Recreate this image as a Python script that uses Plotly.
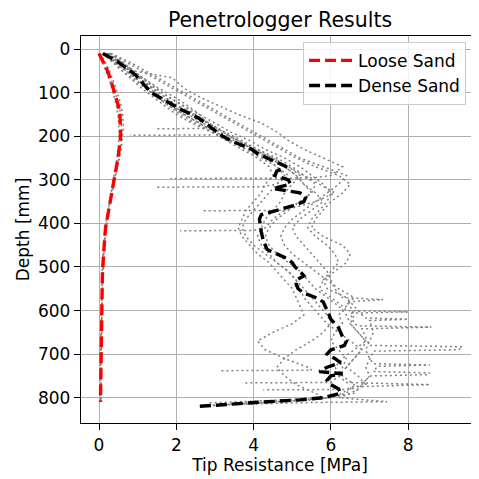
import plotly.graph_objects as go

# ---------------- data ----------------
# Mean profiles
loose_mean_depth = [10, 30, 50, 70, 90, 110, 130, 150, 170, 190, 210, 230, 250, 270, 290, 310, 330, 350, 370, 390,
                    410, 430, 450, 470, 490, 510, 530, 550, 570, 590, 610, 630, 650, 670, 690, 710, 730, 750, 770, 790, 810]
loose_mean_q = [0.0, 0.12, 0.22, 0.3, 0.37, 0.44, 0.5, 0.54, 0.56, 0.56, 0.55, 0.53, 0.49, 0.45, 0.41, 0.36, 0.31, 0.27, 0.23, 0.2,
                0.17, 0.15, 0.13, 0.11, 0.1, 0.09, 0.085, 0.08, 0.075, 0.07, 0.065, 0.06, 0.06, 0.055, 0.05, 0.05, 0.045, 0.045, 0.04, 0.04, 0.04]

dense_mean_depth = [10, 20, 30, 40, 50, 60, 70, 80, 90, 100, 110, 120, 130, 140, 150, 160, 170, 180, 190, 200,
                    210, 220, 230, 240, 250, 260, 270, 280, 290, 300, 310, 320, 330, 340, 350, 360, 370, 380, 390, 400,
                    420, 440, 460, 470, 480, 490, 500, 510, 520, 530, 540, 550, 560, 570, 580, 590, 600, 610, 620, 630,
                    640, 650, 660, 670, 680, 690, 700, 710, 720, 730, 740, 745, 750, 760, 770, 780, 790, 800, 805, 810, 815, 820]
dense_mean_q = [0.1, 0.3, 0.5, 0.65, 0.8, 0.95, 1.05, 1.15, 1.25, 1.35, 1.55, 1.75, 1.95, 2.15, 2.4, 2.6, 2.75, 2.9, 3.05, 3.2,
                3.4, 3.7, 3.95, 4.1, 4.35, 4.6, 4.85, 4.6, 4.55, 4.9, 4.95, 4.5, 5.2, 5.35, 5.3, 5.0, 4.6, 4.2, 4.15, 4.16,
                4.2, 4.25, 4.35, 4.6, 4.85, 5.0, 5.07, 5.2, 5.3, 5.1, 5.1, 5.15, 5.3, 5.6, 5.8, 5.85, 5.9, 5.95, 6.0, 6.1,
                6.2, 6.25, 6.3, 6.4, 6.35, 6.0, 5.9, 6.1, 6.25, 5.9, 5.7, 6.3, 6.0, 5.9, 6.0, 6.2, 6.25, 5.8, 5.2, 4.2, 3.2, 2.55]

# Individual loose-sand soundings
loose_1_q = [0.02, 0.16, 0.27, 0.36, 0.44, 0.51, 0.57, 0.61, 0.63, 0.62, 0.6, 0.57, 0.53, 0.48, 0.43, 0.38, 0.33, 0.28, 0.24, 0.21,
             0.18, 0.16, 0.14, 0.12, 0.11, 0.1, 0.09, 0.09, 0.08, 0.08, 0.07, 0.07, 0.07, 0.06, 0.06, 0.06, 0.05, 0.05, 0.05, 0.05, 0.05]
loose_2_q = [0.0, 0.09, 0.18, 0.26, 0.33, 0.39, 0.45, 0.49, 0.51, 0.52, 0.51, 0.5, 0.47, 0.43, 0.39, 0.35, 0.3, 0.26, 0.22, 0.19,
             0.16, 0.14, 0.12, 0.1, 0.09, 0.08, 0.08, 0.07, 0.07, 0.06, 0.06, 0.05, 0.05, 0.05, 0.04, 0.04, 0.04, 0.04, 0.03, 0.03, 0.03]
loose_3_q = [0.01, 0.13, 0.23, 0.31, 0.38, 0.45, 0.52, 0.56, 0.58, 0.58, 0.56, 0.54, 0.5, 0.46, 0.42, 0.37, 0.32, 0.28, 0.24, 0.2,
             0.17, 0.15, 0.13, 0.12, 0.1, 0.1, 0.09, 0.08, 0.08, 0.07, 0.07, 0.06, 0.06, 0.06, 0.05, 0.05, 0.05, 0.05, 0.04, 0.04, 0.04]

# Individual dense-sand soundings (depth [mm], tip resistance [MPa])
dense_1_d = [10, 30, 50, 66, 90, 110, 130, 150, 170, 190, 210, 230, 250, 270, 290, 296, 297]
dense_1_q = [0.3, 0.6, 0.9, 1.9, 2.2, 2.6, 3.1, 3.6, 4.2, 4.6, 4.9, 5.3, 5.8, 6.3, 6.0, 5.5, 1.85]

dense_2_d = [10, 30, 50, 70, 90, 110, 130, 150, 170, 190, 197, 198]
dense_2_q = [0.2, 0.5, 0.85, 1.2, 1.55, 1.95, 2.3, 2.6, 2.8, 3.0, 2.9, 0.8]

dense_3_d = [10, 30, 50, 70, 90, 110, 130, 150, 170, 182, 183]
dense_3_q = [0.15, 0.4, 0.7, 1.0, 1.3, 1.6, 1.9, 2.2, 2.6, 2.8, 1.5]

dense_4_d = [10, 30, 50, 70, 90, 110, 130, 150, 170, 190, 210, 230, 250, 270, 290, 310, 316, 317]
dense_4_q = [0.1, 0.35, 0.6, 0.9, 1.2, 1.5, 1.85, 2.2, 2.6, 3.0, 3.4, 3.8, 4.2, 4.6, 4.9, 4.6, 4.2, 1.5]

dense_5_d = [10, 30, 50, 70, 90, 110, 130, 150, 170, 190, 210, 230, 250, 270, 290, 310, 330, 350, 370, 371]
dense_5_q = [0.2, 0.5, 0.8, 1.1, 1.4, 1.7, 2.05, 2.45, 2.85, 3.25, 3.7, 4.1, 4.5, 4.9, 5.3, 5.7, 6.1, 5.6, 4.8, 2.7]

dense_6_d = [10, 30, 50, 70, 90, 110, 130, 150, 170, 190, 210, 230, 250, 270, 290, 310, 330, 350, 370, 390, 410, 416, 417]
dense_6_q = [0.25, 0.55, 0.85, 1.15, 1.45, 1.8, 2.15, 2.5, 2.85, 3.2, 3.6, 4.0, 4.4, 4.8, 5.1, 5.3, 5.5, 5.2, 4.8, 4.5, 4.3, 4.0, 2.1]

dense_7_d = [10, 30, 50, 70, 90, 110, 130, 150, 170, 190, 210, 230, 250, 270, 290, 310, 330, 350, 370, 390,
             410, 430, 450, 470, 490, 510, 530, 550, 570, 590, 610, 630, 650, 670, 690, 710, 730, 737, 738]
dense_7_q = [0.1, 0.4, 0.7, 0.95, 1.2, 1.5, 1.8, 2.1, 2.5, 2.9, 3.3, 3.7, 4.1, 4.4, 4.5, 4.3, 4.2, 4.0, 3.8, 3.7,
             3.6, 3.7, 3.9, 4.1, 4.4, 4.6, 4.8, 5.0, 5.1, 5.2, 5.3, 5.0, 4.5, 4.1, 4.3, 4.8, 5.4, 5.5, 3.1]

dense_8_d = [10, 30, 50, 70, 90, 110, 130, 150, 170, 190, 210, 230, 250, 270, 290, 310, 330, 350, 370, 390,
             410, 430, 450, 470, 490, 510, 530, 550, 570, 575, 580, 590, 610, 630, 650, 670, 690, 710, 730, 750, 765, 766]
dense_8_q = [0.2, 0.5, 0.8, 1.1, 1.4, 1.7, 2.0, 2.4, 2.8, 3.2, 3.6, 4.0, 4.4, 4.8, 5.1, 5.3, 5.6, 5.8, 5.5, 5.2,
             5.0, 5.1, 5.3, 5.5, 5.7, 5.9, 6.0, 6.1, 6.3, 7.35, 6.4, 6.5, 6.6, 6.5, 6.7, 6.9, 6.8, 6.6, 6.4, 6.2, 6.0, 3.7]

dense_9_d = [10, 30, 50, 70, 90, 110, 130, 150, 170, 190, 210, 230, 250, 270, 290, 310, 330, 350, 370, 390,
             410, 430, 450, 470, 490, 510, 530, 550, 570, 590, 600, 603, 606, 630, 635, 638, 642, 660, 680, 683,
             690, 693, 710, 730, 750, 770, 781, 782]
dense_9_q = [0.3, 0.7, 1.1, 1.5, 1.9, 2.3, 2.7, 3.1, 3.5, 3.9, 4.3, 4.7, 5.1, 5.6, 6.2, 6.5, 6.3, 6.0, 5.8, 5.6,
             5.5, 5.8, 6.3, 6.5, 6.4, 6.1, 5.8, 5.7, 6.0, 6.3, 6.4, 8.0, 6.5, 6.6, 6.7, 8.6, 6.8, 6.9, 7.0, 9.4,
             9.3, 7.1, 7.0, 6.9, 7.0, 6.8, 6.5, 4.25]

dense_10_d = [10, 30, 50, 70, 90, 110, 130, 150, 170, 190, 210, 230, 250, 270, 290, 310, 330, 350, 370, 390,
              410, 430, 450, 470, 490, 510, 530, 550, 570, 590, 610, 630, 650, 670, 690, 710, 730, 750, 770, 790,
              800, 806, 812]
dense_10_q = [0.15, 0.45, 0.75, 1.0, 1.25, 1.5, 1.8, 2.2, 2.6, 3.0, 3.5, 4.0, 4.5, 4.9, 5.2, 5.0, 4.8, 4.7, 4.5, 4.3,
              4.2, 4.1, 4.2, 4.4, 4.6, 4.9, 5.1, 5.3, 5.5, 5.7, 5.9, 6.0, 5.8, 5.5, 5.1, 4.8, 4.6, 4.8, 5.1, 5.6,
              5.8, 4.5, 2.8]

dense_11_d = [10, 30, 50, 70, 90, 110, 130, 150, 170, 190, 210, 230, 250, 270, 290, 310, 330, 350, 370, 390,
              410, 430, 450, 470, 490, 510, 530, 550, 570, 590, 610, 617, 620, 623, 650, 670, 690, 710, 722, 725,
              728, 740, 743, 747, 750, 770, 790, 805, 815, 820]
dense_11_q = [0.25, 0.6, 0.9, 1.2, 1.5, 1.8, 2.2, 2.6, 3.0, 3.4, 3.9, 4.3, 4.8, 5.2, 5.5, 5.8, 6.0, 5.9, 5.7, 5.5,
              5.4, 5.6, 5.9, 6.1, 6.2, 6.0, 5.8, 5.9, 6.4, 6.6, 6.8, 6.9, 8.0, 7.0, 7.1, 7.0, 6.9, 7.0, 7.1, 8.56,
              7.2, 7.1, 8.56, 8.5, 7.0, 6.8, 6.6, 5.5, 3.5, 2.6]

dense_12_d = [10, 30, 50, 70, 90, 110, 130, 150, 170, 190, 210, 230, 250, 270, 290, 310, 330, 350, 370, 390,
              410, 430, 450, 470, 490, 510, 530, 550, 570, 590, 610, 630, 650, 670, 690, 710, 730, 750, 770, 790,
              800, 809, 811, 816]
dense_12_q = [0.1, 0.35, 0.6, 0.85, 1.1, 1.4, 1.7, 2.0, 2.4, 2.9, 3.4, 3.9, 4.3, 4.6, 4.8, 4.6, 4.4, 4.2, 4.0, 3.8,
              3.7, 3.8, 4.0, 4.3, 4.6, 4.9, 5.1, 5.2, 5.3, 5.5, 5.7, 5.9, 6.2, 6.5, 6.8, 6.6, 6.4, 6.7, 6.9, 6.5,
              6.2, 7.45, 5.5, 3.2]

dense_13_d = [10, 30, 50, 70, 90, 110, 130, 150, 170, 190, 210, 230, 250, 270, 290, 310, 330, 350, 370, 390,
              410, 430, 450, 470, 490, 510, 530, 550, 570, 590, 610, 630, 650, 670, 690, 710, 730, 750, 770, 790,
              800, 808, 818]
dense_13_q = [0.2, 0.55, 0.85, 1.1, 1.35, 1.6, 1.9, 2.3, 2.7, 3.1, 3.6, 4.1, 4.6, 5.0, 5.3, 5.6, 5.5, 5.2, 4.9, 4.6,
              4.4, 4.3, 4.4, 4.6, 4.9, 5.2, 5.4, 5.6, 5.9, 6.2, 6.4, 6.5, 6.7, 6.9, 6.6, 6.3, 6.1, 6.3, 6.6, 6.4,
              6.0, 4.8, 2.7]

dense_14_d = [10, 30, 50, 70, 90, 110, 130, 150, 170, 190, 210, 230, 250, 270, 290, 310, 330, 350, 370, 390,
              410, 430, 450, 470, 490, 510, 530, 550, 570, 590, 610, 630, 650, 670, 690, 710, 730, 750, 765, 770,
              775, 790, 800, 807, 814]
dense_14_q = [0.3, 0.8, 1.2, 1.6, 2.0, 2.4, 2.8, 3.2, 3.6, 4.0, 4.4, 4.8, 5.2, 5.8, 6.4, 6.2, 5.9, 5.6, 5.3, 5.0,
              4.8, 4.7, 4.8, 5.0, 5.3, 5.6, 5.9, 6.2, 6.6, 6.4, 6.2, 6.3, 6.1, 6.0, 6.2, 6.4, 6.3, 6.2, 6.4, 8.56,
              6.5, 6.3, 6.0, 5.0, 3.4]

x_ticks = [0, 2, 4, 6, 8]
y_ticks = [0, 100, 200, 300, 400, 500, 600, 700, 800]

# ---------------- figure ----------------
fig = go.Figure()

gray_line = dict(color="#808080", width=1.5, dash="2px,3px")

for q in (loose_1_q, loose_2_q, loose_3_q):
    fig.add_trace(go.Scatter(x=q, y=loose_mean_depth, mode="lines", line=gray_line,
                             showlegend=False, hoverinfo="skip"))

dense_runs = [
    (dense_1_d, dense_1_q), (dense_2_d, dense_2_q), (dense_3_d, dense_3_q), (dense_4_d, dense_4_q),
    (dense_5_d, dense_5_q), (dense_6_d, dense_6_q), (dense_7_d, dense_7_q), (dense_8_d, dense_8_q),
    (dense_9_d, dense_9_q), (dense_10_d, dense_10_q), (dense_11_d, dense_11_q), (dense_12_d, dense_12_q),
    (dense_13_d, dense_13_q), (dense_14_d, dense_14_q),
]
for d, q in dense_runs:
    fig.add_trace(go.Scatter(x=q, y=d, mode="lines", line=gray_line,
                             showlegend=False, hoverinfo="skip"))

fig.add_trace(go.Scatter(x=loose_mean_q, y=loose_mean_depth, mode="lines", name="Loose Sand",
                         line=dict(color="#ff0000", width=3.4, dash="11px,5px")))
fig.add_trace(go.Scatter(x=dense_mean_q, y=dense_mean_depth, mode="lines", name="Dense Sand",
                         line=dict(color="#000000", width=3.4, dash="11px,5px")))

# The page adds an 8 px body margin, so the figure is 471 px and laid out 8 px up/left.
font_family = "DejaVu Sans"
fig.update_layout(
    width=471, height=471,
    margin=dict(l=73, r=0, t=28, b=56, autoexpand=False),
    paper_bgcolor="white", plot_bgcolor="white",
    font=dict(family=font_family, size=17, color="black"),
    title=dict(text="Penetrologger Results", x=0.5, xref="paper", y=1 - 11.5 / 471, yref="container",
               xanchor="center", yanchor="middle", font=dict(size=20.5, family=font_family)),
    legend=dict(x=0.558, y=0.985, xanchor="left", yanchor="top", bgcolor="rgba(255,255,255,0.85)",
                bordercolor="#cccccc", borderwidth=1, font=dict(size=17, family=font_family),
                tracegroupgap=0, itemwidth=44),
    showlegend=True,
)
fig.update_xaxes(
    range=[-0.466, 9.83], tickvals=x_ticks, ticktext=[str(v) for v in x_ticks],
    showgrid=True, gridcolor="#b0b0b0", gridwidth=1.2, zeroline=False,
    showline=True, linecolor="black", linewidth=1.3, mirror=True, automargin=False,
    ticks="outside", ticklen=6, tickwidth=1.2, tickcolor="black", tickfont=dict(size=17),
    title=dict(text="Tip Resistance [MPa]", standoff=4, font=dict(size=17)),
)
fig.update_yaxes(
    range=[858, -30], tickvals=y_ticks, ticktext=[str(v) for v in y_ticks],
    showgrid=True, gridcolor="#b0b0b0", gridwidth=1.2, zeroline=False,
    showline=True, linecolor="black", linewidth=1.3, mirror=False, automargin=False,
    ticks="outside", ticklen=6, tickwidth=1.2, tickcolor="black", tickfont=dict(size=17),
    title=dict(text="Depth [mm]", standoff=4, font=dict(size=17)),
)

fig.write_html("out.html")
